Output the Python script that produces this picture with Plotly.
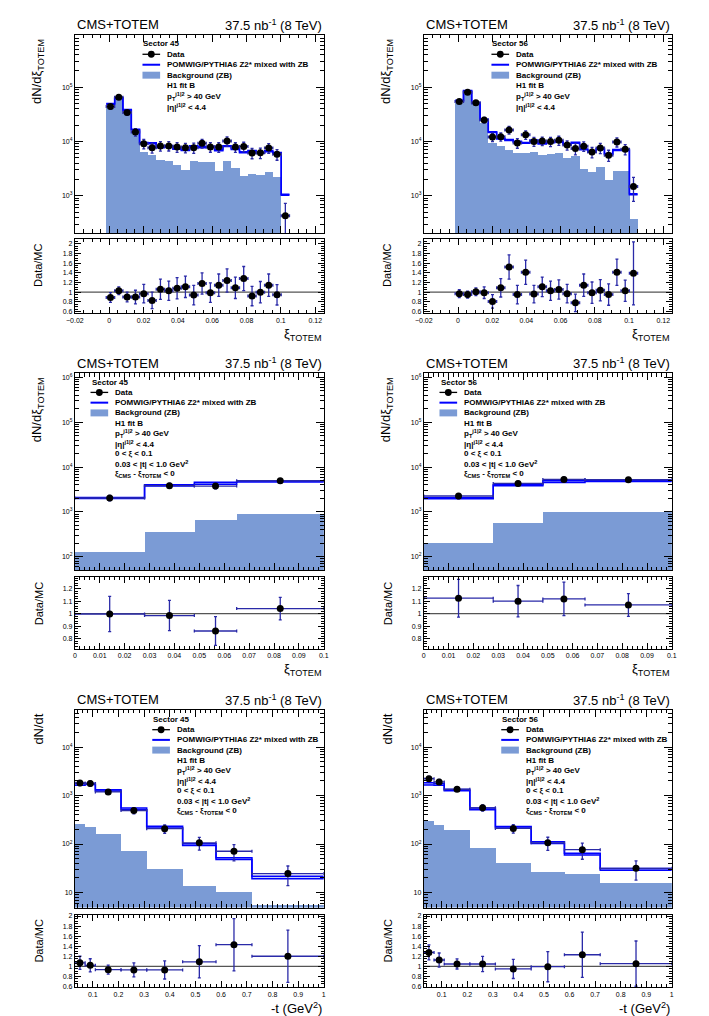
import math
import plotly.graph_objects as go

# ---------------- values ----------------
# Row 1 : dN/dxi_TOTEM in 22 xi bins
xi22_edges = [-0.0017, 0.0032, 0.0080, 0.0129, 0.0177, 0.0226, 0.0274, 0.0323, 0.0371,
              0.0420, 0.0468, 0.0517, 0.0565, 0.0614, 0.0662, 0.0711, 0.0759, 0.0808,
              0.0856, 0.0905, 0.0953, 0.1002, 0.1050]

s45_xi_data = [44000, 65600, 34300, 14900, 9100, 7700, 8300, 8300, 7900, 7700, 7700,
               9250, 7950, 7900, 10200, 7900, 8100, 6150, 6200, 7600, 5800, 430]
s45_xi_mc = [49400, 63700, 38100, 16550, 9380, 9280, 7830, 8060, 7310, 6940, 8190,
             7840, 8030, 6900, 8230, 7250, 6330, 6680, 6200, 6640, 6140, 1040]
s45_xi_bg = [42000, 62000, 36500, 15500, 6400, 5650, 4580, 4390, 3700, 2960, 4330,
             4250, 4250, 2930, 4330, 3300, 2330, 2540, 2450, 2740, 2200, None]
s45_xi_ratio = [0.89, 1.03, 0.90, 0.90, 0.97, 0.83, 1.06, 1.03, 1.08, 1.11, 0.94,
                1.18, 0.99, 1.145, 1.24, 1.09, 1.28, 0.92, 1.00, 1.145, 0.945, None]
s45_xi_ratio_err = [0.10, 0.08, 0.10, 0.14, 0.19, 0.17, 0.21, 0.20, 0.22, 0.22, 0.20,
                    0.22, 0.20, 0.23, 0.24, 0.22, 0.25, 0.20, 0.22, 0.23, 0.21, 0.28]
s45_xi_mc_rel = [0.02] * 22

s56_xi_data = [54600, 81000, 51600, 24800, 12100, 12300, 16300, 9400, 13300, 10000, 10200,
               10000, 10500, 8600, 7400, 8200, 6400, 7600, 5600, 9800, 7200, 1480]
s56_xi_mc = [56300, 85300, 51100, 25100, 14900, 11300, 10700, 9900, 9430, 10400, 9190,
             9710, 9950, 8870, 9490, 7160, 6460, 7310, 5890, 6950, 6990, 1065]
s56_xi_bg = [52000, 80000, 48500, 22200, 9500, 8150, 6980, 6240, 6100, 6400, 5730,
             5900, 6100, 4900, 5420, 3170, 2760, 3450, 1940, 2880, 2880, 373]
s56_xi_ratio = [0.97, 0.95, 1.01, 0.99, 0.81, 1.09, 1.52, 0.95, 1.41, 0.96, 1.11,
                1.03, 1.055, 0.97, 0.78, 1.145, 0.99, 1.04, 0.95, 1.41, 1.03, 1.39]
s56_xi_ratio_err = [0.08, 0.07, 0.08, 0.12, 0.14, 0.19, 0.25, 0.19, 0.25, 0.18, 0.20,
                    0.20, 0.20, 0.19, 0.18, 0.23, 0.22, 0.22, 0.22, 0.27, 0.22, 0.65]
s56_xi_mc_rel = [0.02] * 22

# Row 2 : dN/dxi_TOTEM in 4 xi bins
xi4_edges = [0.0, 0.028, 0.048, 0.065, 0.1]

s45_xi4_data = [2050, 3850, 3780, 4970]
s45_xi4_mc = [2050, 3910, 4390, 4780]
s45_xi4_bg = [125, 360, 650, 890]
s45_xi4_ratio = [0.997, 0.985, 0.862, 1.04]
s45_xi4_ratio_err = [0.14, 0.12, 0.115, 0.09]
s45_xi4_mc_rel = [0.02, 0.03, 0.05, 0.02]

s56_xi4_data = [2270, 4330, 5320, 5230]
s56_xi4_mc = [2020, 3940, 4760, 4890]
s56_xi4_bg = [198, 560, 1000, 985]
s56_xi4_ratio = [1.123, 1.099, 1.117, 1.069]
s56_xi4_ratio_err = [0.15, 0.125, 0.133, 0.09]
s56_xi4_mc_rel = [0.03, 0.03, 0.05, 0.02]

# Row 3 : dN/dt in 8 |t| bins
t_edges = [0.03, 0.07, 0.11, 0.21, 0.31, 0.45, 0.58, 0.72, 1.0]

s45_t_data = [1820, 1770, 1190, 492, 207, 106, 71, 24.6]
s45_t_mc = [1700, 1735, 1274, 530, 223, 97, 50, 20.5]
s45_t_bg = [266, 227, 165, 75, 31.6, 13.9, 10.6, 5.6]
s45_t_ratio = [1.07, 1.02, 0.934, 0.928, 0.928, 1.09, 1.43, 1.20]
s45_t_ratio_err = [0.13, 0.13, 0.09, 0.14, 0.18, 0.32, 0.52, 0.52]
s45_t_mc_rel = [0.04, 0.03, 0.03, 0.04, 0.04, 0.04, 0.04, 0.06]

s56_t_data = [2230, 1910, 1350, 558, 210, 106, 76.5, 31.6]
s56_t_mc = [1748, 1698, 1291, 533, 222, 107, 62, 30]
s56_t_bg = [311, 258, 197, 85.5, 42, 26.6, 24.6, 16]
s56_t_ratio = [1.276, 1.125, 1.046, 1.046, 0.947, 0.993, 1.23, 1.053]
s56_t_ratio_err = [0.15, 0.14, 0.10, 0.15, 0.19, 0.30, 0.45, 0.45]
s56_t_mc_rel = [0.05, 0.04, 0.03, 0.04, 0.04, 0.04, 0.04, 0.04]

# ---------------- style / geometry ----------------
W, H = 709, 1016
FONT = "Liberation Sans, Arial, sans-serif"
FILL = "#7b9bd5"
MCBLUE = "#0000ff"
ERRBLUE = "#2a2aa8"
BANDFILL = "rgba(150,170,225,0.55)"

COLS = [(59, 313), (415, 668)]
ROWS = [(25, 224, 230, 305), (365, 563, 570, 642), (703, 902, 909, 982)]
LEG_OFF = [68, 15, 78]
LEG_TOP = [34, 374, 713]
LEG_STEP = [10.5, 10.3, 10.25]

common_lines = ["H1 fit B", "p<sub>T</sub><sup>j1|2</sup> &gt; 40 GeV",
                "|η|<sup>j1|2</sup> &lt; 4.4"]
cut_lines = ["0 &lt; ξ &lt; 0.1", "0.03 &lt; |t| &lt; 1.0 GeV<sup>2</sup>",
             "ξ<sub>CMS</sub> - ξ<sub>TOTEM</sub> &lt; 0"]

row_spec = [
    dict(xr=[-0.02, 0.125], xdt=0.02, xminor=0.005, ylog=[2.315, 5.966], dec=[3, 4, 5],
         rr=[0.56, 2.10], rdt=0.2, rminor=0.05, ytitle="dN/dξ<sub>TOTEM</sub>",
         xtitle="ξ<sub>TOTEM</sub>", extra=common_lines),
    dict(xr=[0.0, 0.1], xdt=0.01, xminor=0.002, ylog=[1.70, 6.096], dec=[2, 3, 4, 5, 6],
         rr=[0.72, 1.29], rdt=0.1, rminor=0.02, ytitle="dN/dξ<sub>TOTEM</sub>",
         xtitle="ξ<sub>TOTEM</sub>", extra=common_lines + cut_lines),
    dict(xr=[0.03, 1.0], xdt=0.1, xminor=0.02, ylog=[0.69, 4.774], dec=[1, 2, 3, 4],
         rr=[0.585, 2.03], rdt=0.2, rminor=0.05, ytitle="dN/dt",
         xtitle="-t (GeV<sup>2</sup>)", extra=common_lines + cut_lines),
]

panels = [
    dict(col=0, row=0, sector="45", edges=xi22_edges, data=s45_xi_data, mc=s45_xi_mc,
         bg=s45_xi_bg, ratio=s45_xi_ratio, rerr=s45_xi_ratio_err, mrel=s45_xi_mc_rel),
    dict(col=1, row=0, sector="56", edges=xi22_edges, data=s56_xi_data, mc=s56_xi_mc,
         bg=s56_xi_bg, ratio=s56_xi_ratio, rerr=s56_xi_ratio_err, mrel=s56_xi_mc_rel),
    dict(col=0, row=1, sector="45", edges=xi4_edges, data=s45_xi4_data, mc=s45_xi4_mc,
         bg=s45_xi4_bg, ratio=s45_xi4_ratio, rerr=s45_xi4_ratio_err, mrel=s45_xi4_mc_rel),
    dict(col=1, row=1, sector="56", edges=xi4_edges, data=s56_xi4_data, mc=s56_xi4_mc,
         bg=s56_xi4_bg, ratio=s56_xi4_ratio, rerr=s56_xi4_ratio_err, mrel=s56_xi4_mc_rel),
    dict(col=0, row=2, sector="45", edges=t_edges, data=s45_t_data, mc=s45_t_mc,
         bg=s45_t_bg, ratio=s45_t_ratio, rerr=s45_t_ratio_err, mrel=s45_t_mc_rel),
    dict(col=1, row=2, sector="56", edges=t_edges, data=s56_t_data, mc=s56_t_mc,
         bg=s56_t_bg, ratio=s56_t_ratio, rerr=s56_t_ratio_err, mrel=s56_t_mc_rel),
]


def X(p):
    return p / W


def Y(p):
    return 1 - p / H


def akey(letter, n):
    return f"{letter}axis" if n == 1 else f"{letter}axis{n}"


def aref(letter, n):
    return letter if n == 1 else f"{letter}{n}"


TICKFONT = dict(family=FONT, size=7, color="black")
base_axis = dict(showline=True, linecolor="black", linewidth=1, mirror="allticks",
                 ticks="inside", tickcolor="black", showgrid=False, zeroline=False,
                 tickfont=TICKFONT)

fig = go.Figure()
layout = {}
shapes = []
annotations = []


def ann(text, x, y, size=8, xanchor="left", yanchor="middle", angle=0):
    annotations.append(dict(text=text, x=x, y=y, xref="paper", yref="paper",
                            xanchor=xanchor, yanchor=yanchor, showarrow=False,
                            textangle=angle, font=dict(family=FONT, size=size, color="black")))


for i, p in enumerate(panels):
    rs = row_spec[p["row"]]
    L, R = COLS[p["col"]]
    mt, mb, rt, rb = ROWS[p["row"]]
    mi, ri = 2 * i + 1, 2 * i + 2
    mx, my, rx, ry = aref("x", mi), aref("y", mi), aref("x", ri), aref("y", ri)

    e = p["edges"]
    cen = [(a + b) / 2 for a, b in zip(e[:-1], e[1:])]
    hw = [(b - a) / 2 for a, b in zip(e[:-1], e[1:])]
    wid = [2 * h for h in hw]

    # background (ZB)
    fig.add_trace(go.Bar(x=cen, y=p["bg"], width=wid, marker=dict(color=FILL, line=dict(width=0)),
                         xaxis=mx, yaxis=my, showlegend=False, hoverinfo="skip"))
    # MC band as two step lines
    lo = [m * (1 - r) for m, r in zip(p["mc"], p["mrel"])]
    hi = [m * (1 + r) for m, r in zip(p["mc"], p["mrel"])]
    fig.add_trace(go.Scatter(x=e, y=lo + [lo[-1]], mode="lines", line=dict(color=MCBLUE, width=1.5, shape="hv"),
                             xaxis=mx, yaxis=my, showlegend=False, hoverinfo="skip"))
    fig.add_trace(go.Scatter(x=e, y=hi + [hi[-1]], mode="lines", line=dict(color=MCBLUE, width=1.5, shape="hv"),
                             fill="tonexty", fillcolor=BANDFILL,
                             xaxis=mx, yaxis=my, showlegend=False, hoverinfo="skip"))
    # data
    derr = [r * m for r, m in zip(p["rerr"], p["mc"])]
    fig.add_trace(go.Scatter(x=cen, y=p["data"], mode="markers",
                             marker=dict(color="black", size=7),
                             error_x=dict(type="data", array=hw, color=ERRBLUE, thickness=1.3, width=1.5),
                             error_y=dict(type="data", array=derr, color=ERRBLUE, thickness=1.3, width=1.5),
                             xaxis=mx, yaxis=my, showlegend=False, hoverinfo="skip"))
    # ratio
    fig.add_trace(go.Scatter(x=cen, y=p["ratio"], mode="markers",
                             marker=dict(color="black", size=7),
                             error_x=dict(type="data", array=hw, color=ERRBLUE, thickness=1.3, width=1.5),
                             error_y=dict(type="data", array=p["rerr"], color=ERRBLUE, thickness=1.3, width=1.5),
                             xaxis=rx, yaxis=ry, showlegend=False, hoverinfo="skip"))
    shapes.append(dict(type="line", xref=f"{rx} domain", yref=ry, x0=0, x1=1, y0=1, y1=1,
                       line=dict(color="#555555", width=1.3), layer="below"))

    # axes
    xdom = [X(L), X(R)]
    lo_d, hi_d = rs["ylog"]
    minor_vals = [k * 10 ** d for d in range(0, 8) for k in range(2, 10)
                  if lo_d <= (d + math.log10(k)) <= hi_d]
    layout[akey("x", mi)] = dict(base_axis, domain=xdom, anchor=my, range=rs["xr"], tick0=0,
                                 dtick=rs["xdt"], ticklen=7, showticklabels=False,
                                 minor=dict(dtick=rs["xminor"], ticks="inside", ticklen=3.5, tickcolor="black"))
    layout[akey("y", mi)] = dict(base_axis, domain=[Y(mb), Y(mt)], anchor=mx, type="log",
                                 range=rs["ylog"], tickvals=[10 ** d for d in rs["dec"]],
                                 ticktext=["10" if d == 1 else f"10<sup>{d}</sup>" for d in rs["dec"]],
                                 ticklen=8,
                                 minor=dict(tickvals=minor_vals, ticks="inside", ticklen=4, tickcolor="black"))
    layout[akey("x", ri)] = dict(base_axis, domain=xdom, anchor=ry, range=rs["xr"], tick0=0,
                                 dtick=rs["xdt"], ticklen=6,
                                 minor=dict(dtick=rs["xminor"], ticks="inside", ticklen=3, tickcolor="black"))
    layout[akey("y", ri)] = dict(base_axis, domain=[Y(rb), Y(rt)], anchor=rx, range=rs["rr"],
                                 tick0=0, dtick=rs["rdt"], ticklen=6,
                                 minor=dict(dtick=rs["rminor"], ticks="inside", ticklen=3, tickcolor="black"))

    # titles
    ann("CMS+TOTEM", X(L), Y(mt - 10), size=13)
    ann("37.5 nb<sup>-1</sup> (8 TeV)", X(R), Y(mt - 10), size=13, xanchor="right")
    ycx = 21 if p["col"] == 0 else 377
    ann(rs["ytitle"], X(ycx), Y(mt + 2), size=13, xanchor="center", yanchor="top", angle=-90)
    ann("Data/MC", X(ycx + 1), Y(rt + 3), size=11, xanchor="center", yanchor="top", angle=-90)
    ann(rs["xtitle"], X(R), Y(rb + 21), size=13, xanchor="right")

    # in-panel legend
    off = L + LEG_OFF[p["row"]]
    step = LEG_STEP[p["row"]]
    y0 = LEG_TOP[p["row"]]
    ann(f"<b>Sector {p['sector']}</b>", X(off), Y(y0), size=8)
    yd, ym, yb = y0 + step, y0 + 2 * step, y0 + 3 * step
    shapes.append(dict(type="line", xref="paper", yref="paper", x0=X(off + 1), x1=X(off + 19),
                       y0=Y(yd), y1=Y(yd), line=dict(color="black", width=1.3)))
    shapes.append(dict(type="circle", xref="paper", yref="paper", x0=X(off + 6.5), x1=X(off + 13.5),
                       y0=Y(yd + 3.5), y1=Y(yd - 3.5), fillcolor="black", line=dict(width=0)))
    shapes.append(dict(type="line", xref="paper", yref="paper", x0=X(off + 1), x1=X(off + 19),
                       y0=Y(ym), y1=Y(ym), line=dict(color=MCBLUE, width=2)))
    shapes.append(dict(type="rect", xref="paper", yref="paper", x0=X(off + 1), x1=X(off + 19),
                       y0=Y(yb + 3.5), y1=Y(yb - 3.5), fillcolor=FILL, line=dict(width=0)))
    tx = X(off + 24)
    ann("<b>Data</b>", tx, Y(yd))
    ann("<b>POMWIG/PYTHIA6 Z2* mixed with ZB</b>", tx, Y(ym))
    ann("<b>Background (ZB)</b>", tx, Y(yb))
    for k, line in enumerate(rs["extra"]):
        ann(f"<b>{line}</b>", tx, Y(y0 + (4 + k) * step))

fig.update_layout(width=W, height=H, margin=dict(l=0, r=0, t=0, b=0), autosize=False,
                  showlegend=False, plot_bgcolor="white", paper_bgcolor="white",
                  barmode="overlay", bargap=0, font=dict(family=FONT),
                  shapes=shapes, annotations=annotations, **layout)
fig.write_html("out.html")
